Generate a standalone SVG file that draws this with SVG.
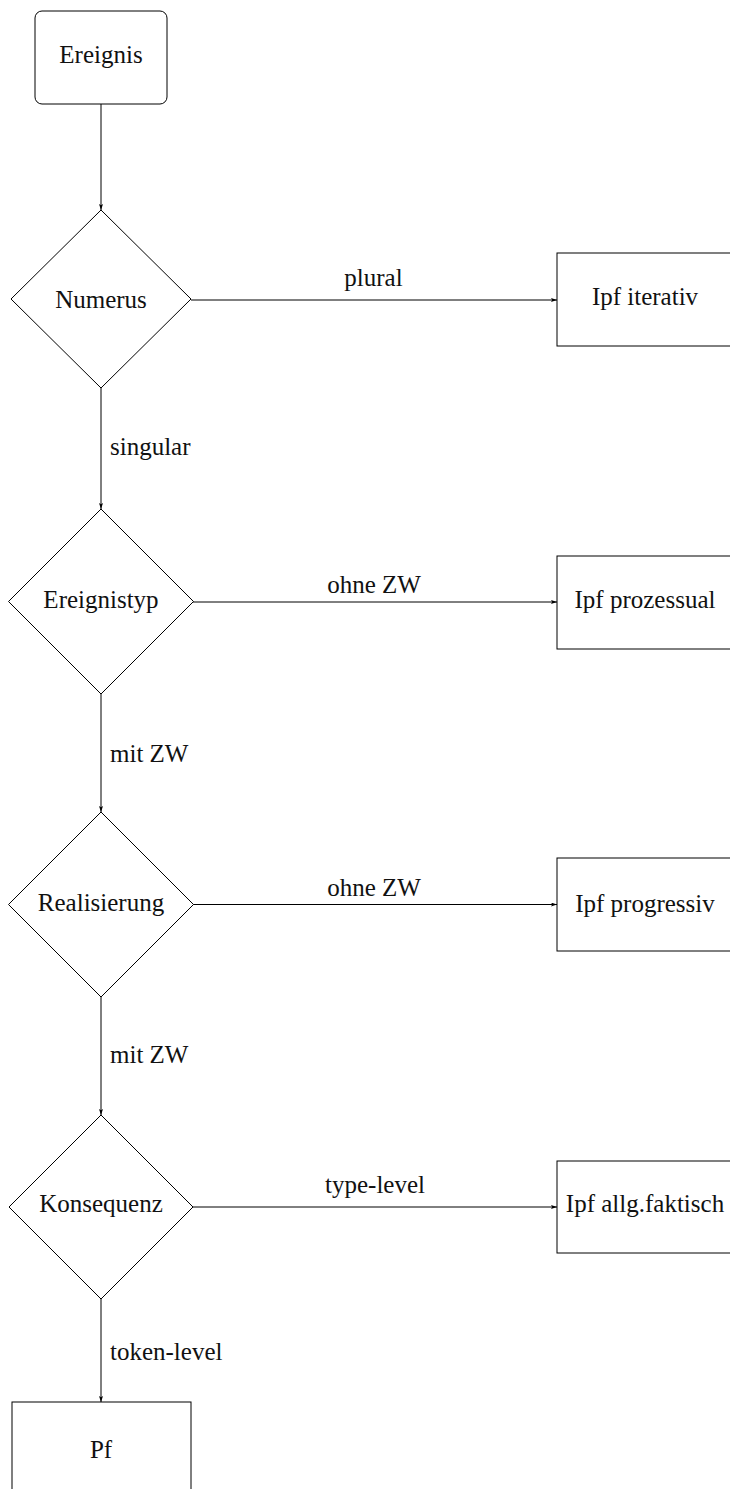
<svg xmlns="http://www.w3.org/2000/svg" width="730" height="1489" viewBox="0 0 730 1489">
<style>
.n{fill:#fff;stroke:#000;stroke-width:1}
.t{font-family:"Liberation Serif","Times New Roman",serif;font-size:25px;fill:#111;text-anchor:middle}
.l{font-family:"Liberation Serif","Times New Roman",serif;font-size:25px;fill:#111}
.e{fill:none;stroke:#000;stroke-width:1;marker-end:url(#ah)}
</style>
<defs>
<marker id="ah" viewBox="0 0 6 4" refX="6" refY="2" markerWidth="6" markerHeight="4" markerUnits="userSpaceOnUse" orient="auto">
<path d="M0,0 L6,2 L0,4 L1.2,2 z" fill="#000"/>
</marker>
</defs>
<rect width="730" height="1489" fill="#fff"/>
<g id="connectors">
<line class="e" x1="101" y1="104" x2="101" y2="210"/>
<line class="e" x1="101" y1="388" x2="101" y2="509"/>
<line class="e" x1="101" y1="694" x2="101" y2="812"/>
<line class="e" x1="101" y1="997" x2="101" y2="1115"/>
<line class="e" x1="101" y1="1299" x2="101" y2="1402"/>
<line class="e" x1="191" y1="300" x2="557" y2="300"/>
<line class="e" x1="193" y1="602" x2="557" y2="602"/>
<line class="e" x1="193" y1="904.5" x2="557" y2="904.5"/>
<line class="e" x1="193" y1="1207" x2="557" y2="1207"/>
<text class="t" x="373.5" y="286">plural</text>
<text class="t" x="374" y="593">ohne ZW</text>
<text class="t" x="374" y="896">ohne ZW</text>
<text class="t" x="375" y="1193">type-level</text>
<text class="l" x="110" y="455">singular</text>
<text class="l" x="110" y="762">mit ZW</text>
<text class="l" x="110" y="1063">mit ZW</text>
<text class="l" x="110" y="1360">token-level</text>
</g>
<g id="ereignis">
<rect class="n" x="35" y="11" width="132" height="93" rx="7" ry="7"/>
<text class="t" x="101" y="63">Ereignis</text>
</g>
<g id="numerus">
<polygon class="n" points="101,210 191,299 101,388 11,299"/>
<text class="t" x="101" y="308">Numerus</text>
</g>
<g id="ereignistyp">
<polygon class="n" points="101,509 193.5,601.5 101,694 8.5,601.5"/>
<text class="t" x="101" y="608">Ereignistyp</text>
</g>
<g id="realisierung">
<polygon class="n" points="101,812 193.5,904.5 101,997 8.5,904.5"/>
<text class="t" x="101" y="911">Realisierung</text>
</g>
<g id="konsequenz">
<polygon class="n" points="101,1115 193,1207 101,1299 9,1207"/>
<text class="t" x="101" y="1212">Konsequenz</text>
</g>
<g id="ipf-iterativ">
<rect class="n" x="557" y="253" width="176" height="93"/>
<text class="t" x="645" y="305">Ipf iterativ</text>
</g>
<g id="ipf-prozessual">
<rect class="n" x="557" y="556" width="176" height="93"/>
<text class="t" x="645" y="608">Ipf prozessual</text>
</g>
<g id="ipf-progressiv">
<rect class="n" x="557" y="858" width="176" height="93"/>
<text class="t" x="645" y="912">Ipf progressiv</text>
</g>
<g id="ipf-allg-faktisch">
<rect class="n" x="557" y="1161" width="176" height="92"/>
<text class="t" x="645" y="1212">Ipf allg.faktisch</text>
</g>
<g id="pf">
<rect class="n" x="12" y="1402" width="179" height="93"/>
<text class="t" x="101" y="1458">Pf</text>
</g>
</svg>
